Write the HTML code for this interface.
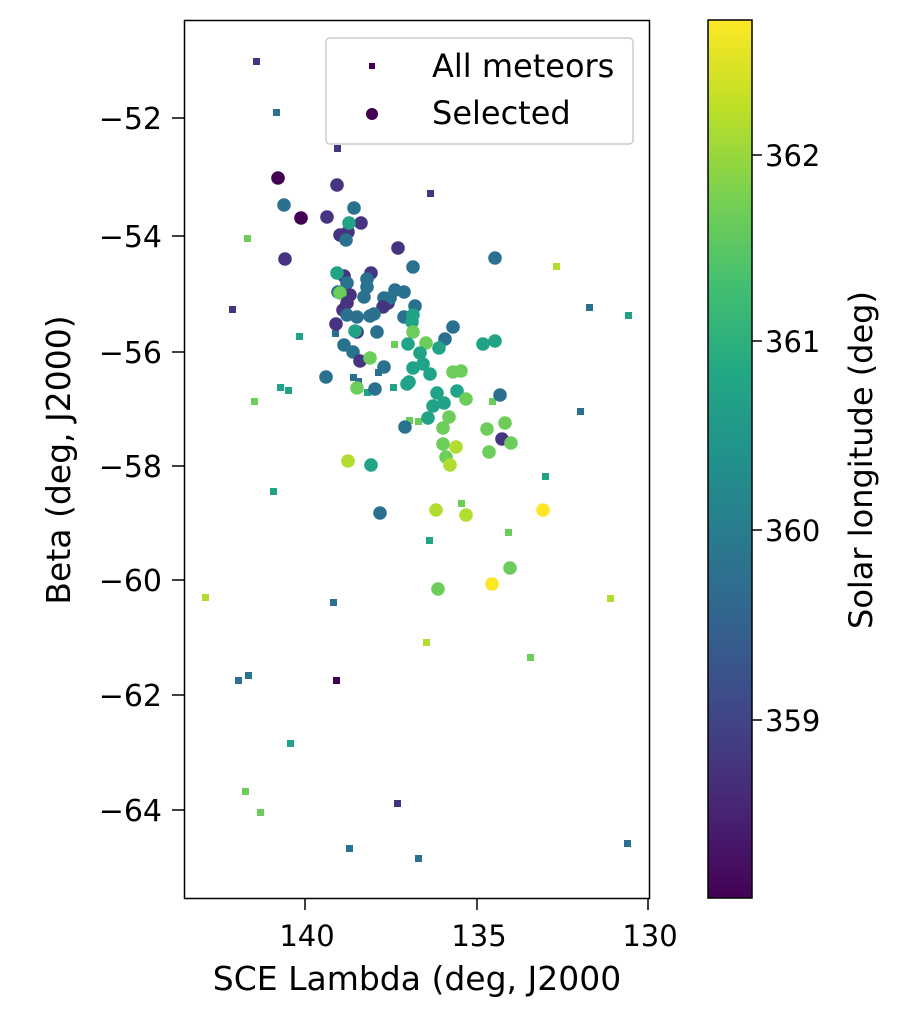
<!DOCTYPE html>
<html><head><meta charset="utf-8"><style>body{margin:0;background:#fff}svg{display:block}text{font-family:"DejaVu Sans","Liberation Sans",sans-serif;fill:#000}</style></head><body>
<svg width="918" height="1024" xmlns="http://www.w3.org/2000/svg">
<defs><linearGradient id="vir" x1="0" y1="1" x2="0" y2="0">
<stop offset="0" stop-color="#440154"/><stop offset="0.1" stop-color="#482475"/><stop offset="0.2" stop-color="#414487"/><stop offset="0.3" stop-color="#355f8d"/><stop offset="0.4" stop-color="#2a788e"/><stop offset="0.5" stop-color="#21918c"/><stop offset="0.6" stop-color="#22a884"/><stop offset="0.7" stop-color="#44bf70"/><stop offset="0.8" stop-color="#7ad151"/><stop offset="0.9" stop-color="#bddf26"/><stop offset="1" stop-color="#fde725"/></linearGradient>
<style>.p{fill:#440154}.i{fill:#463480}.b{fill:#365c8d}.t{fill:#2a7190}.g{fill:#20a386}.l{fill:#6ccd5a}.y{fill:#b0dd2f}.Y{fill:#fde725}</style></defs>
<g id="sq">
<rect class="i" x="253" y="58" width="7" height="7"/><rect class="t" x="273" y="109" width="7" height="7"/><rect class="i" x="334" y="145" width="7" height="7"/><rect class="i" x="427" y="190" width="7" height="7"/><rect class="l" x="244" y="235" width="7" height="7"/><rect class="y" x="553" y="263" width="7" height="7"/><rect class="t" x="586" y="304" width="7" height="7"/><rect class="g" x="625" y="312" width="7" height="7"/><rect class="i" x="229" y="306" width="7" height="7"/><rect class="g" x="296" y="333" width="7" height="7"/><rect class="t" x="332" y="330" width="7" height="7"/><rect class="l" x="391" y="341" width="7" height="7"/><rect class="l" x="251" y="398" width="7" height="7"/><rect class="g" x="277" y="384" width="7" height="7"/><rect class="g" x="285" y="387" width="7" height="7"/><rect class="t" x="350" y="374" width="7" height="7"/><rect class="t" x="355" y="378" width="7" height="7"/><rect class="t" x="375" y="369" width="7" height="7"/><rect class="g" x="390" y="384" width="7" height="7"/><rect class="g" x="364" y="389" width="7" height="7"/><rect class="l" x="489" y="398" width="7" height="7"/><rect class="l" x="406" y="417" width="7" height="7"/><rect class="l" x="415" y="418" width="7" height="7"/><rect class="g" x="542" y="473" width="7" height="7"/><rect class="l" x="458" y="500" width="7" height="7"/><rect class="g" x="426" y="537" width="7" height="7"/><rect class="l" x="505" y="529" width="7" height="7"/><rect class="g" x="270" y="488" width="7" height="7"/><rect class="y" x="202" y="594" width="7" height="7"/><rect class="t" x="577" y="408" width="7" height="7"/><rect class="t" x="330" y="599" width="7" height="7"/><rect class="y" x="423" y="639" width="7" height="7"/><rect class="y" x="607" y="595" width="7" height="7"/><rect class="l" x="527" y="654" width="7" height="7"/><rect class="p" x="333" y="677" width="7" height="7"/><rect class="t" x="245" y="672" width="7" height="7"/><rect class="t" x="235" y="677" width="7" height="7"/><rect class="g" x="287" y="740" width="7" height="7"/><rect class="l" x="242" y="788" width="7" height="7"/><rect class="l" x="257" y="809" width="7" height="7"/><rect class="i" x="394" y="800" width="7" height="7"/><rect class="t" x="346" y="845" width="7" height="7"/><rect class="t" x="415" y="855" width="7" height="7"/><rect class="t" x="624" y="840" width="7" height="7"/>
</g>
<g id="ci">
<circle class="p" cx="278" cy="178" r="6.8"/><circle class="i" cx="337" cy="185" r="6.8"/><circle class="t" cx="284" cy="205" r="6.8"/><circle class="p" cx="301" cy="218" r="6.8"/><circle class="i" cx="327" cy="217" r="6.8"/><circle class="t" cx="354" cy="208" r="6.8"/><circle class="i" cx="361" cy="223" r="6.8"/><circle class="i" cx="340" cy="235" r="6.8"/><circle class="i" cx="348" cy="232" r="6.8"/><circle class="t" cx="346" cy="240" r="6.8"/><circle class="g" cx="349" cy="223" r="6.8"/><circle class="i" cx="285" cy="259" r="6.8"/><circle class="i" cx="398" cy="248" r="6.8"/><circle class="t" cx="413" cy="267" r="6.8"/><circle class="t" cx="495" cy="258" r="6.8"/><circle class="i" cx="344" cy="276" r="6.8"/><circle class="g" cx="337" cy="273" r="6.8"/><circle class="i" cx="371" cy="273" r="6.8"/><circle class="t" cx="367" cy="279" r="6.8"/><circle class="t" cx="347" cy="283" r="6.8"/><circle class="t" cx="367" cy="287" r="6.8"/><circle class="t" cx="338" cy="292" r="6.8"/><circle class="i" cx="350" cy="295" r="6.8"/><circle class="l" cx="340" cy="293" r="6.8"/><circle class="t" cx="364" cy="297" r="6.8"/><circle class="t" cx="395" cy="290" r="6.8"/><circle class="t" cx="404" cy="292" r="6.8"/><circle class="i" cx="388" cy="303" r="6.8"/><circle class="t" cx="384" cy="298" r="6.8"/><circle class="t" cx="390" cy="298" r="6.8"/><circle class="i" cx="347" cy="303" r="6.8"/><circle class="i" cx="343" cy="310" r="6.8"/><circle class="i" cx="383" cy="307" r="6.8"/><circle class="t" cx="415" cy="306" r="6.8"/><circle class="t" cx="347" cy="315" r="6.8"/><circle class="t" cx="357" cy="317" r="6.8"/><circle class="t" cx="370" cy="316" r="6.8"/><circle class="t" cx="374" cy="314" r="6.8"/><circle class="t" cx="404" cy="317" r="6.8"/><circle class="g" cx="413" cy="315" r="6.8"/><circle class="g" cx="412" cy="322" r="6.8"/><circle class="i" cx="336" cy="324" r="6.8"/><circle class="i" cx="357" cy="332" r="6.8"/><circle class="g" cx="355" cy="331" r="6.8"/><circle class="t" cx="377" cy="332" r="6.8"/><circle class="l" cx="413" cy="332" r="6.8"/><circle class="t" cx="453" cy="327" r="6.8"/><circle class="t" cx="445" cy="339" r="6.8"/><circle class="t" cx="344" cy="345" r="6.8"/><circle class="g" cx="408" cy="344" r="6.8"/><circle class="l" cx="426" cy="343" r="6.8"/><circle class="g" cx="439" cy="348" r="6.8"/><circle class="g" cx="483" cy="344" r="6.8"/><circle class="g" cx="495" cy="341" r="6.8"/><circle class="t" cx="353" cy="352" r="6.8"/><circle class="g" cx="420" cy="353" r="6.8"/><circle class="i" cx="360" cy="361" r="6.8"/><circle class="l" cx="370" cy="358" r="6.8"/><circle class="t" cx="384" cy="367" r="6.8"/><circle class="g" cx="413" cy="368" r="6.8"/><circle class="g" cx="423" cy="364" r="6.8"/><circle class="g" cx="430" cy="374" r="6.8"/><circle class="l" cx="453" cy="372" r="6.8"/><circle class="l" cx="461" cy="371" r="6.8"/><circle class="t" cx="326" cy="377" r="6.8"/><circle class="g" cx="409" cy="382" r="6.8"/><circle class="g" cx="407" cy="384" r="6.8"/><circle class="l" cx="357" cy="388" r="6.8"/><circle class="t" cx="375" cy="389" r="6.8"/><circle class="g" cx="437" cy="393" r="6.8"/><circle class="g" cx="457" cy="391" r="6.8"/><circle class="t" cx="500" cy="395" r="6.8"/><circle class="l" cx="466" cy="399" r="6.8"/><circle class="g" cx="433" cy="406" r="6.8"/><circle class="g" cx="444" cy="403" r="6.8"/><circle class="l" cx="449" cy="417" r="6.8"/><circle class="g" cx="428" cy="418" r="6.8"/><circle class="t" cx="405" cy="427" r="6.8"/><circle class="l" cx="443" cy="428" r="6.8"/><circle class="l" cx="487" cy="429" r="6.8"/><circle class="l" cx="505" cy="423" r="6.8"/><circle class="i" cx="502" cy="439" r="6.8"/><circle class="l" cx="511" cy="443" r="6.8"/><circle class="l" cx="443" cy="444" r="6.8"/><circle class="y" cx="456" cy="447" r="6.8"/><circle class="l" cx="489" cy="452" r="6.8"/><circle class="l" cx="446" cy="457" r="6.8"/><circle class="y" cx="450" cy="465" r="6.8"/><circle class="y" cx="348" cy="461" r="6.8"/><circle class="g" cx="371" cy="465" r="6.8"/><circle class="y" cx="436" cy="510" r="6.8"/><circle class="y" cx="466" cy="515" r="6.8"/><circle class="Y" cx="543" cy="510" r="6.8"/><circle class="t" cx="380" cy="513" r="6.8"/><circle class="l" cx="510" cy="568" r="6.8"/><circle class="Y" cx="492" cy="584" r="6.8"/><circle class="l" cx="438" cy="589" r="6.8"/>
</g>
<rect x="184.5" y="20.5" width="465" height="878" fill="none" stroke="#000" stroke-width="1.5"/>
<g stroke="#000" stroke-width="1.5">
<line x1="305" y1="898" x2="305" y2="910"/><line x1="477" y1="898" x2="477" y2="910"/><line x1="648" y1="898" x2="648" y2="910"/>
<line x1="172" y1="118" x2="184" y2="118"/><line x1="172" y1="236" x2="184" y2="236"/><line x1="172" y1="352" x2="184" y2="352"/><line x1="172" y1="466" x2="184" y2="466"/><line x1="172" y1="580" x2="184" y2="580"/><line x1="172" y1="695" x2="184" y2="695"/><line x1="172" y1="810" x2="184" y2="810"/>
</g>
<g font-size="29" text-anchor="middle">
<text x="307" y="946">140</text><text x="479" y="946">135</text><text x="650" y="946">130</text>
</g>
<g font-size="30" text-anchor="end">
<text x="162" y="129">−52</text><text x="162" y="247">−54</text><text x="162" y="363">−56</text><text x="162" y="477">−58</text><text x="162" y="591">−60</text><text x="162" y="706">−62</text><text x="162" y="821">−64</text>
</g>
<text x="417" y="990" font-size="33" text-anchor="middle">SCE Lambda (deg, J2000</text>
<text transform="translate(70,460) rotate(-90)" font-size="33" text-anchor="middle">Beta (deg, J2000)</text>
<rect x="326" y="38" width="307" height="106" rx="4" fill="#fff" fill-opacity="0.8" stroke="#ccc" stroke-width="1.5"/>
<rect class="p" x="369" y="63" width="6" height="6"/><circle class="p" cx="372" cy="114" r="6"/>
<text x="432" y="77" font-size="32">All meteors</text><text x="432" y="124" font-size="32">Selected</text>
<rect x="708" y="20" width="44" height="878" fill="url(#vir)" stroke="#000" stroke-width="1.5"/>
<g stroke="#000" stroke-width="1.5"><line x1="752" y1="155" x2="762" y2="155"/><line x1="752" y1="341" x2="762" y2="341"/><line x1="752" y1="530" x2="762" y2="530"/><line x1="752" y1="720" x2="762" y2="720"/></g>
<g font-size="29"><text x="765" y="166">362</text><text x="765" y="352">361</text><text x="765" y="541">360</text><text x="765" y="731">359</text></g>
<text transform="translate(872,460) rotate(-90)" font-size="32" text-anchor="middle">Solar longitude (deg)</text>
</svg>
</body></html>
